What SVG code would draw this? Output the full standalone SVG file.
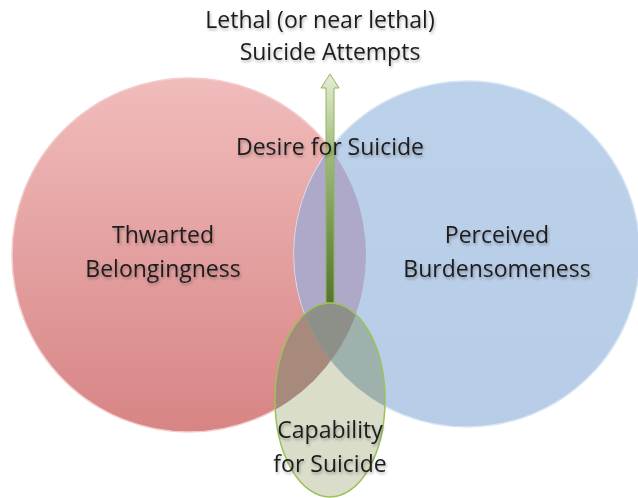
<svg xmlns="http://www.w3.org/2000/svg" width="638" height="498" viewBox="0 0 638 498">
<defs>
<linearGradient id="gRed" x1="0" y1="0" x2="0" y2="1">
<stop offset="0" stop-color="#f1bcbc"/>
<stop offset="1" stop-color="#d78484"/>
</linearGradient>
<linearGradient id="gBlue" x1="0" y1="0" x2="0" y2="1">
<stop offset="0" stop-color="#bcd1ea"/>
<stop offset="1" stop-color="#b7cce6"/>
</linearGradient>
<linearGradient id="gArrow" x1="0" y1="0" x2="0" y2="1">
<stop offset="0" stop-color="#e6eed6"/>
<stop offset="0.35" stop-color="#9fbb78"/>
<stop offset="1" stop-color="#56742c"/>
</linearGradient>
<clipPath id="cRed"><circle cx="189" cy="255" r="177"/></clipPath>
<clipPath id="cBlue"><circle cx="467" cy="254" r="173"/></clipPath>
<clipPath id="cEll"><ellipse cx="330" cy="400" rx="55" ry="97"/></clipPath>
<filter id="sh" x="-10%" y="-30%" width="120%" height="170%">
<feGaussianBlur in="SourceAlpha" stdDeviation="1.5"/>
<feOffset dx="1" dy="2" result="b"/>
<feComponentTransfer><feFuncA type="linear" slope="0.3"/></feComponentTransfer>
<feMerge><feMergeNode/><feMergeNode in="SourceGraphic"/></feMerge>
</filter>
</defs>
<style>
text{font-family:"Open Sans","Liberation Sans",sans-serif;font-size:23px;fill:#1e1e1e;text-anchor:middle;}
.t{filter:url(#sh);}
</style>
<rect width="638" height="498" fill="#ffffff"/>
<g id="thwarted">
<circle cx="189" cy="255" r="177" fill="url(#gRed)" stroke="#f4cccc" stroke-width="1.5"/>
</g>
<g id="burden">
<circle cx="467" cy="254" r="173" fill="url(#gBlue)" stroke="#d8e5f3" stroke-width="1.5"/>
<g clip-path="url(#cRed)">
<circle cx="467" cy="254" r="173" fill="#aea8c9"/>
</g>
</g>
<g id="connectors">
<path d="M326,303 L326,88 L321,88 L330,74 L339,88 L334,88 L334,303 Z" fill="url(#gArrow)" stroke="#92b265" stroke-width="1"/>
</g>
<g id="capability">
<ellipse cx="330" cy="400" rx="55" ry="97" fill="#d9ddc9"/>
<g clip-path="url(#cEll)">
<circle cx="189" cy="255" r="177" fill="#a78a7b"/>
<circle cx="467" cy="254" r="173" fill="#9fb1ad"/>
<g clip-path="url(#cRed)"><circle cx="467" cy="254" r="173" fill="#8d8f89"/></g>
</g>
<ellipse cx="330" cy="400" rx="55" ry="97" fill="none" stroke="#9cc15a" stroke-width="1.5"/>
</g>
<g id="labels" class="t">
<text x="320" y="28">Lethal (or near lethal)</text>
<text x="330" y="60">Suicide Attempts</text>
<text x="330" y="155">Desire for Suicide</text>
<text x="163" y="243">Thwarted</text>
<text x="163" y="277">Belongingness</text>
<text x="497" y="243">Perceived</text>
<text x="497" y="277">Burdensomeness</text>
<text x="330" y="438">Capability</text>
<text x="330" y="472">for Suicide</text>
</g>
</svg>
